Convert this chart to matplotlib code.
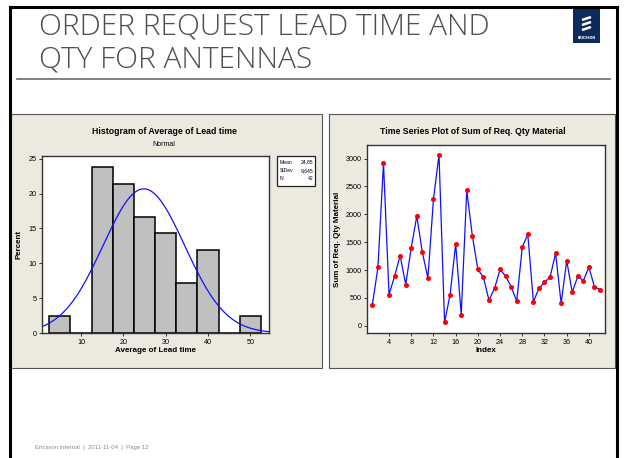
import numpy as np
import matplotlib
matplotlib.use('Agg')
import matplotlib.pyplot as plt
from matplotlib.patches import Rectangle

# histogram data (Average of Lead time), bin width 5
bin_centers = [5, 10, 15, 20, 25, 30, 35, 40, 45, 50]
bin_counts = [1, 0, 10, 9, 7, 6, 3, 5, 0, 1]
n_total = 42
mean_lt = 24.85
sd_lt = 9.645

# time series data (Sum of Req. Qty Material)
qty = [380, 1050, 2920, 560, 890, 1260, 740, 1400, 1970, 1320,
       855, 2270, 3070, 60, 560, 1470, 200, 2430, 1620, 1010,
       870, 460, 670, 1010, 890, 700, 440, 1410, 1640, 430,
       670, 780, 870, 1300, 400, 1170, 600, 890, 810, 1050,
       700, 650]

W, H = 627, 458
fig = plt.figure(figsize=(W / 100, H / 100), dpi=100)
fig.patch.set_facecolor('white')

plt.rcParams['font.family'] = ['Liberation Sans Narrow', 'Liberation Sans', 'DejaVu Sans']


def box(x0, y0, x1, y1):
    # pixel box (top-left origin) -> figure fraction rect
    return [x0 / W, 1 - y1 / H, (x1 - x0) / W, (y1 - y0) / H]


bg = fig.add_axes([0, 0, 1, 1])
bg.set_xlim(0, W)
bg.set_ylim(H, 0)
bg.axis('off')

# slide frame
bg.plot([9.5, 9.5], [6.5, H], color='black', lw=2.2)
bg.plot([9.5, 617], [6.5, 6.5], color='black', lw=2.2)
bg.plot([617, 617], [6.5, H], color='black', lw=2.2)

# title
bg.text(39, 27, 'ORDER REQUEST LEAD TIME AND', fontsize=21.5, color='#4f4f4f',
        family='Open Sans', fontweight='light', va='center', ha='left')
bg.text(39, 60, 'QTY FOR ANTENNAS', fontsize=21.5, color='#4f4f4f',
        family='Open Sans', fontweight='light', va='center', ha='left')
bg.plot([17, 610], [79, 79], color='#6b6b6b', lw=1.2)

# logo
bg.add_patch(Rectangle((573, 8), 27, 35, facecolor='#0d2a5c', edgecolor='none'))
for i in range(3):
    bg.plot([582 + 0, 591], [18 + i * 5 + 2, 18 + i * 5 - 1], color='white', lw=1.8,
            solid_capstyle='butt')
bg.text(586.5, 38, 'ERICSSON', fontsize=2.3, color='white', ha='center', va='center',
        family='DejaVu Sans', fontweight='bold')

# footer
bg.text(35, 448, 'Ericsson Internal  |  2011-11-04  |  Page 12', fontsize=4.3,
        color='#8a8a8a', family='Liberation Sans', va='center')

# panels
panel_bg = '#ece9df'
bg.add_patch(Rectangle((11, 114), 311, 254, facecolor=panel_bg, edgecolor='#555555', lw=0.8))
bg.add_patch(Rectangle((329, 114), 286, 254, facecolor=panel_bg, edgecolor='#555555', lw=0.8))

tick_fs = 5.2
lab_fs = 5.8

# ---------- histogram ----------
ax1 = fig.add_axes(box(42, 156, 269, 333))
percent = [c / n_total * 100 for c in bin_counts]
ax1.bar(bin_centers, percent, width=5, color='#c0c0c0', edgecolor='black', lw=1.1)
xs = np.linspace(0.8, 54.4, 300)
pdf = 5 * 100 * np.exp(-0.5 * ((xs - mean_lt) / sd_lt) ** 2) / (sd_lt * np.sqrt(2 * np.pi))
ax1.plot(xs, pdf, color='#1010ff', lw=0.9)
ax1.set_xlim(0.8, 54.4)
ax1.set_ylim(0, 25.4)
ax1.set_xticks([10, 20, 30, 40, 50])
ax1.set_yticks([0, 5, 10, 15, 20, 25])
ax1.set_xlabel('Average of Lead time', fontsize=lab_fs, fontweight='bold', labelpad=1)
ax1.set_ylabel('Percent', fontsize=lab_fs, fontweight='bold', labelpad=4)
fig.text(164 / W, 1 - 132 / H, 'Histogram of Average of Lead time', fontsize=6.3,
         fontweight='bold', ha='center', va='center')
fig.text(164 / W, 1 - 144 / H, 'Normal', fontsize=5, ha='center', va='center')

# stats box
bg.add_patch(Rectangle((277, 156), 38, 30, facecolor='white', edgecolor='#222222', lw=0.9))
stats = [('Mean', '24,85'), ('StDev', '9,645'), ('N', '42')]
for i, (k, v) in enumerate(stats):
    bg.text(280, 162 + i * 8.5, k, fontsize=3.6, va='center', ha='left')
    bg.text(313, 162 + i * 8.5, v, fontsize=3.6, va='center', ha='right')

# ---------- time series ----------
ax2 = fig.add_axes(box(367, 145, 605, 333))
idx = np.arange(1, len(qty) + 1)
ax2.plot(idx, qty, color='#1010ff', lw=0.9, marker='o', markersize=2.6,
         markerfacecolor='#ff0000', markeredgecolor='#ff0000')
ax2.set_xlim(0.03, 42.9)
ax2.set_ylim(-130, 3245)
ax2.set_xticks(range(4, 41, 4))
ax2.set_yticks(range(0, 3001, 500))
ax2.set_xlabel('Index', fontsize=lab_fs, fontweight='bold', labelpad=1)
ax2.set_ylabel('Sum of Req. Qty Material', fontsize=lab_fs, fontweight='bold', labelpad=3)
fig.text(473 / W, 1 - 132 / H, 'Time Series Plot of Sum of Req. Qty Material', fontsize=6.3,
         fontweight='bold', ha='center', va='center')

for ax in (ax1, ax2):
    ax.set_facecolor('white')
    for s in ax.spines.values():
        s.set_color('#333333')
        s.set_linewidth(1.0)
    ax.tick_params(labelsize=tick_fs, length=2.5, width=0.7, pad=1.5, color='#333333')

fig.savefig('out.png', dpi=100, facecolor='white')
